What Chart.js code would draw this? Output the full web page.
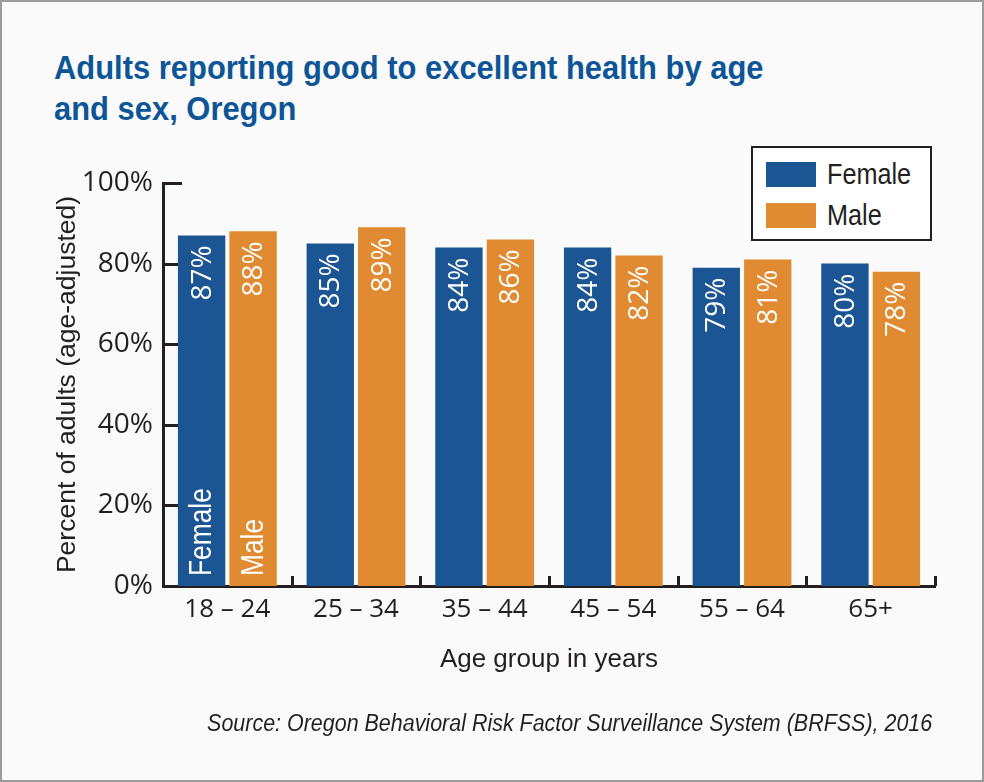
<!DOCTYPE html>
<html>
<head>
<meta charset="utf-8">
<script src="https://cdn.jsdelivr.net/npm/chart.js@4.4.1/dist/chart.umd.min.js"></script>
<style>
  html, body { margin:0; padding:0; }
  body { width:984px; height:782px; position:relative; background:#fafafa; overflow:hidden; }
  #frame { position:absolute; left:0; top:0; width:980px; height:778px; border:2px solid #9b9b9b; }
  #wrap { position:absolute; left:0; top:0; width:984px; height:782px; }
  #title { position:absolute; left:54px; top:47px; font-family:"Liberation Sans",sans-serif; font-weight:bold; font-size:33px; line-height:41px; color:#0d5596; white-space:nowrap; transform:scaleX(0.937); transform-origin:0 0; }
  #source { position:absolute; right:52px; top:712px; font-family:"Liberation Sans",sans-serif; font-style:italic; font-size:23px; line-height:23px; color:#231f20; white-space:nowrap; transform:scaleX(0.933); transform-origin:100% 0; }
  #legend { position:absolute; left:751px; top:146px; width:177px; height:91px; border:2px solid #231f20; background:#ffffff; }
  .li { position:absolute; left:13px; height:25px; display:flex; align-items:center; font-family:"Liberation Sans",sans-serif; font-size:29px; color:#231f20; }
  .sw { width:50px; height:25px; margin-right:11px; flex:none; }
  .lt { display:inline-block; transform:scaleX(0.87); transform-origin:0 50%; }
</style>
</head>
<body>
<div id="frame"></div>
<div id="title">Adults reporting good to excellent health by age<br>and sex, Oregon</div>
<div id="wrap"><canvas id="c" width="984" height="782"></canvas></div>
<div id="legend"></div>
<div id="source">Source: Oregon Behavioral Risk Factor Surveillance System (BRFSS), 2016</div>
<script>
const categories = ["18 \u2013 24", "25 \u2013 34", "35 \u2013 44", "45 \u2013 54", "55 \u2013 64", "65+"];
const femaleValues = [87, 85, 84, 84, 79, 80];
const maleValues = [88, 89, 86, 82, 81, 78];
const yTicks = [0, 20, 40, 60, 80, 100];
const seriesNames = ["Female", "Male"];
const seriesColors = ["#1b5593", "#e08b31"];

const ink = "#231f20";

// HTML legend built from the dataset names/colours
const legendEl = document.getElementById('legend');
seriesNames.forEach((n, i) => {
  const d = document.createElement('div');
  d.className = 'li';
  d.style.top = (14 + i * 41) + 'px';
  d.innerHTML = '<div class="sw" style="background:' + seriesColors[i] + '"></div><span class="lt">' + n + '</span>';
  legendEl.appendChild(d);
});

const innerTicks = {
  id: 'innerTicks',
  beforeDatasetsDraw(chart) {
    const ctx = chart.ctx;
    const xs = chart.scales.x, ys = chart.scales.y;
    const area = chart.chartArea;
    ctx.save();
    ctx.strokeStyle = ink;
    ctx.lineWidth = 3;
    ctx.beginPath();
    yTicks.forEach(v => {
      const py = Math.round(ys.getPixelForValue(v)) + 0.5;
      ctx.moveTo(area.left, py);
      ctx.lineTo(area.left + 19, py);
    });
    for (let i = 0; i <= categories.length; i++) {
      const px = Math.round(xs.getPixelForValue(i - 0.5)) + 0.5;
      ctx.moveTo(px, area.bottom);
      ctx.lineTo(px, area.bottom - 10);
    }
    ctx.stroke();
    ctx.restore();
  }
};

const barLabels = {
  id: 'barLabels',
  afterDatasetsDraw(chart) {
    const ctx = chart.ctx;
    const area = chart.chartArea;
    ctx.save();
    ctx.fillStyle = '#ffffff';
    ctx.textBaseline = 'middle';
    chart.data.datasets.forEach((ds, di) => {
      const meta = chart.getDatasetMeta(di);
      meta.data.forEach((bar, i) => {
        ctx.save();
        ctx.translate(bar.x, bar.y + 10);
        ctx.rotate(-Math.PI / 2);
        ctx.textAlign = 'right';
        ctx.font = '28px "Open Sans", sans-serif';
        ctx.fillText(ds.data[i] + '%', 0, 1);
        ctx.restore();
        if (i === 0) {
          ctx.save();
          ctx.translate(bar.x, area.bottom - 10);
          ctx.rotate(-Math.PI / 2);
          ctx.scale(0.85, 1);
          ctx.textAlign = 'left';
          ctx.font = '31px "Liberation Sans", sans-serif';
          ctx.fillText(ds.label, 0, 1);
          ctx.restore();
        }
      });
    });
    ctx.restore();
  }
};

new Chart(document.getElementById('c'), {
  type: 'bar',
  data: {
    labels: categories,
    datasets: [
      { label: seriesNames[0], data: femaleValues, backgroundColor: seriesColors[0], borderWidth: 0 },
      { label: seriesNames[1], data: maleValues, backgroundColor: seriesColors[1], borderWidth: 0 }
    ]
  },
  options: {
    responsive: false,
    animation: false,
    devicePixelRatio: 1,
    layout: { padding: { left: 52, right: 49, top: 183, bottom: 107 } },
    plugins: { legend: { display: false }, tooltip: { enabled: false }, title: { display: false } },
    datasets: { bar: { categoryPercentage: 0.8, barPercentage: 0.92 } },
    scales: {
      x: {
        grid: { display: false, drawTicks: false },
        border: { display: true, color: ink, width: 3 },
        ticks: { color: ink, padding: 8, font: { family: '"Open Sans", sans-serif', size: 26 } },
        title: { display: true, text: 'Age group in years', color: ink, padding: 0,
                 font: { family: '"Liberation Sans", sans-serif', size: 26 } },
        afterFit: (s) => { s.height = 89; }
      },
      y: {
        min: 0, max: 100,
        grid: { display: false, drawTicks: false },
        border: { display: true, color: ink, width: 3 },
        afterBuildTicks: (s) => { s.ticks = yTicks.map(v => ({ value: v })); },
        ticks: { color: ink, padding: 10, callback: (v) => v + '%',
                 font: { family: '"Open Sans", sans-serif', size: 28 } },
        title: { display: true, text: 'Percent of adults (age-adjusted)', color: ink, padding: 0,
                 font: { family: '"Liberation Sans", sans-serif', size: 26.5 } },
        afterFit: (s) => { s.width = 111; }
      }
    }
  },
  plugins: [innerTicks, barLabels]
});
</script>
</body>
</html>
